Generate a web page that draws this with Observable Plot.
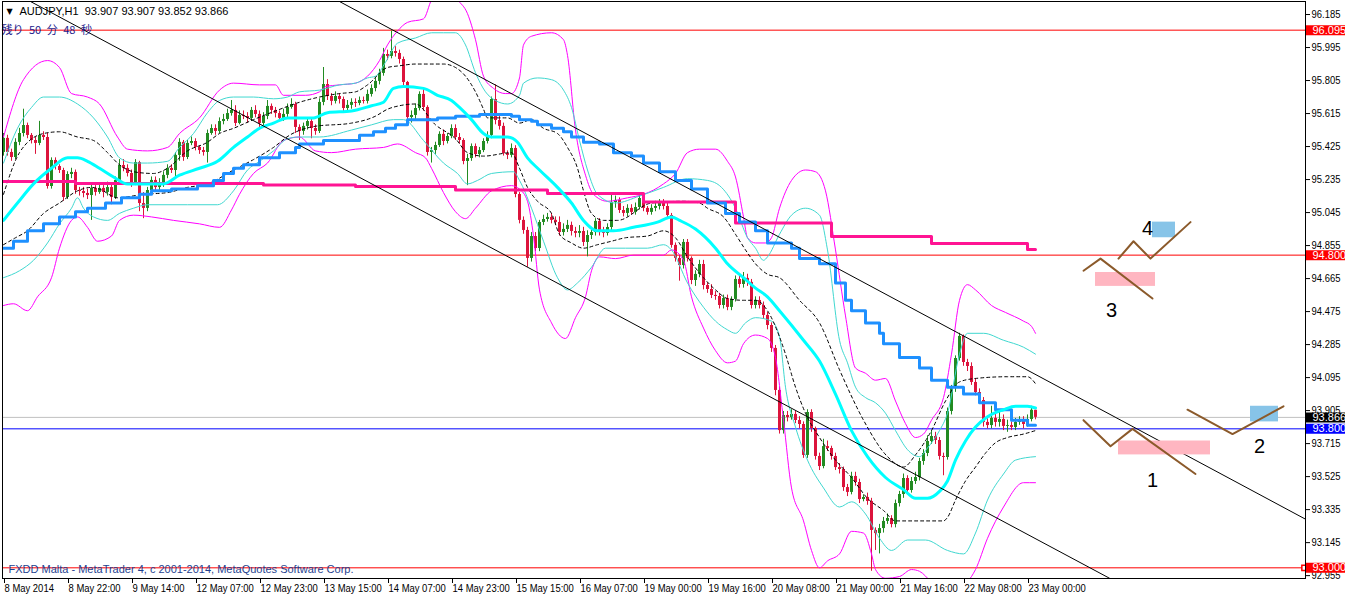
<!DOCTYPE html>
<html><head><meta charset="utf-8">
<script src="https://cdn.jsdelivr.net/npm/d3@7"></script>
<script src="https://cdn.jsdelivr.net/npm/@observablehq/plot@0.6"></script>
<style>
html,body{margin:0;padding:0;background:#fff;}
#chart svg{display:block;}
</style></head><body><div id="chart"></div>
<script>
const FONT = '"Liberation Sans",Arial,sans-serif';

// ---- hourly AUDJPY candles (bar index 0 = 8 May 2014 06:00) ----
const firstOpen = 95.391;
const closes = [
95.472,95.391,95.362,95.449,95.500,95.546,95.489,95.460,95.443,95.489,
95.477,95.195,95.345,95.310,95.287,95.132,95.264,95.276,95.172,95.166,
95.155,95.143,95.184,95.161,95.184,95.161,95.189,95.132,95.230,95.316,
95.299,95.270,95.212,95.333,95.097,95.069,95.172,95.230,95.189,95.207,
95.259,95.299,95.287,95.374,95.449,95.362,95.443,95.454,95.420,95.402,
95.391,95.500,95.529,95.512,95.569,95.581,95.615,95.633,95.558,95.604,
95.598,95.587,95.633,95.610,95.558,95.598,95.656,95.633,95.615,95.587,
95.610,95.650,95.667,95.535,95.512,95.541,95.569,95.529,95.512,95.679,
95.782,95.713,95.685,95.713,95.696,95.644,95.662,95.679,95.673,95.690,
95.685,95.725,95.759,95.800,95.846,95.955,95.944,95.972,95.961,95.926,
95.794,95.592,95.604,95.644,95.725,95.650,95.391,95.402,95.431,95.495,
95.454,95.483,95.529,95.477,95.460,95.339,95.356,95.425,95.379,95.402,
95.454,95.489,95.696,95.575,95.541,95.385,95.374,95.414,95.149,95.000,
94.942,94.781,94.907,94.838,94.988,95.005,95.017,95.000,94.988,94.930,
94.948,94.971,94.936,94.925,94.936,94.873,94.913,94.930,94.994,94.930,
94.925,94.959,95.103,95.115,95.057,95.040,95.069,95.046,95.074,95.126,
95.069,95.046,95.069,95.080,95.097,95.080,95.028,94.856,94.781,94.740,
94.873,94.781,94.654,94.689,94.746,94.625,94.602,94.568,94.562,94.510,
94.550,94.499,94.545,94.660,94.631,94.666,94.643,94.510,94.539,94.510,
94.453,94.395,94.263,94.021,93.790,93.877,93.865,93.883,93.848,93.825,
93.647,93.894,93.802,93.641,93.583,93.698,93.687,93.641,93.577,93.566,
93.462,93.434,93.526,93.491,93.393,93.405,93.382,93.215,93.197,93.226,
93.267,93.284,93.249,93.370,93.422,93.514,93.445,93.497,93.520,93.612,
93.658,93.727,93.756,93.733,93.641,93.635,93.900,94.032,94.205,94.332,
94.182,94.159,94.067,94.009,93.963,93.837,93.819,93.860,93.837,93.854,
93.814,93.819,93.808,93.837,93.848,93.825,93.854,93.907,93.866];
const highs = [
95.50,95.49,95.41,95.47,95.53,95.64,95.56,95.50,95.48,95.57,
95.51,95.50,95.36,95.36,95.32,95.30,95.28,95.30,95.29,95.19,
95.19,95.18,95.21,95.20,95.21,95.20,95.22,95.21,95.25,95.35,
95.35,95.32,95.29,95.35,95.34,95.16,95.19,95.25,95.25,95.24,
95.28,95.32,95.32,95.39,95.47,95.46,95.46,95.48,95.47,95.43,
95.42,95.52,95.55,95.55,95.59,95.61,95.64,95.69,95.66,95.63,
95.63,95.62,95.65,95.66,95.63,95.62,95.69,95.67,95.65,95.63,
95.64,95.67,95.70,95.68,95.55,95.56,95.59,95.59,95.55,95.70,
95.88,95.81,95.73,95.74,95.73,95.71,95.69,95.70,95.70,95.71,
95.71,95.75,95.78,95.82,95.87,95.99,95.98,96.09,96.00,95.98,
95.94,95.80,95.63,95.67,95.74,95.76,95.66,95.42,95.45,95.51,
95.52,95.50,95.55,95.55,95.50,95.47,95.38,95.44,95.44,95.42,
95.47,95.51,95.71,95.78,95.60,95.56,95.40,95.44,95.43,95.16,
95.02,94.96,94.93,94.93,95.00,95.03,95.04,95.04,95.02,95.02,
94.98,95.00,94.99,94.96,94.97,94.96,94.94,94.96,95.01,95.01,
94.96,94.98,95.15,95.14,95.13,95.08,95.09,95.09,95.10,95.16,
95.14,95.08,95.09,95.11,95.12,95.12,95.10,95.04,94.87,94.80,
94.89,94.89,94.79,94.71,94.77,94.77,94.64,94.63,94.59,94.58,
94.57,94.57,94.56,94.68,94.68,94.70,94.69,94.66,94.56,94.56,
94.53,94.47,94.41,94.28,94.04,93.90,93.90,93.91,93.90,93.87,
93.84,93.91,93.91,93.81,93.66,93.74,93.73,93.70,93.66,93.60,
93.58,93.48,93.55,93.55,93.51,93.42,93.43,93.40,93.23,93.25,
93.29,93.31,93.30,93.39,93.44,93.54,93.53,93.52,93.55,93.63,
93.68,93.76,93.79,93.78,93.75,93.66,93.92,94.05,94.22,94.35,
94.34,94.20,94.18,94.09,94.03,93.98,93.87,93.93,93.94,93.90,
93.88,93.85,93.84,93.86,93.87,93.87,93.88,93.93,93.907];
const lows = [
95.37,95.37,95.34,95.35,95.43,95.48,95.47,95.44,95.38,95.43,
95.46,95.18,95.18,95.29,95.27,95.11,95.12,95.24,95.15,95.14,
95.13,95.12,95.00,95.14,95.15,95.13,95.14,95.09,95.12,95.21,
95.28,95.25,95.19,95.20,95.05,95.01,95.05,95.16,95.17,95.17,
95.19,95.24,95.27,95.24,95.34,95.34,95.35,95.43,95.40,95.38,
95.37,95.33,95.49,95.49,95.50,95.55,95.57,95.60,95.54,95.55,
95.58,95.56,95.57,95.59,95.52,95.54,95.58,95.61,95.59,95.57,
95.57,95.59,95.64,95.50,95.46,95.49,95.52,95.47,95.49,95.50,
95.66,95.69,95.66,95.67,95.67,95.62,95.63,95.64,95.65,95.66,
95.67,95.67,95.71,95.74,95.78,95.83,95.92,95.93,95.94,95.90,
95.77,95.57,95.56,95.58,95.63,95.63,95.37,95.33,95.38,95.42,
95.43,95.44,95.47,95.46,95.44,95.32,95.20,95.34,95.36,95.36,
95.39,95.44,95.47,95.55,95.52,95.37,95.35,95.36,95.13,94.98,
94.92,94.73,94.76,94.82,94.82,94.97,94.99,94.98,94.97,94.91,
94.91,94.93,94.91,94.90,94.90,94.85,94.79,94.89,94.91,94.91,
94.90,94.91,94.94,95.07,95.04,95.02,95.02,95.03,95.03,95.06,
95.05,95.03,95.03,95.05,95.06,95.06,95.01,94.84,94.76,94.65,
94.72,94.76,94.63,94.62,94.67,94.60,94.58,94.55,94.54,94.49,
94.49,94.48,94.48,94.53,94.61,94.61,94.62,94.49,94.49,94.49,
94.43,94.37,94.24,93.99,93.77,93.77,93.84,93.85,93.83,93.80,
93.63,93.63,93.78,93.62,93.56,93.57,93.67,93.62,93.56,93.54,
93.44,93.41,93.42,93.47,93.37,93.38,93.36,92.98,93.10,93.08,
93.20,93.25,93.23,93.23,93.35,93.40,93.43,93.43,93.48,93.50,
93.59,93.64,93.71,93.71,93.62,93.53,93.62,93.88,94.01,94.19,
94.16,94.13,94.05,93.99,93.94,93.81,93.80,93.80,93.81,93.81,
93.79,93.78,93.79,93.79,93.82,93.80,93.81,93.84,93.852];

// ---- indicator lines: [bar, price] ----
const magentaUpper = [[0,95.48],[5,95.81],[11,95.92],[14,95.88],[17,95.73],[21,95.71],[24,95.67],[28.5,95.48],[31,95.41],[36,95.40],[41,95.42],[44,95.50],[49,95.59],[54,95.75],[57.5,95.79],[64,95.78],[68,95.78],[70,95.72],[75.5,95.72],[79,95.74],[80.5,95.77],[84,95.78],[88,95.79],[91,95.83],[94,95.92],[96,96.01],[98.5,96.09],[101,96.14],[105,96.16],[107,96.27],[110.5,96.35],[113.5,96.27],[116,96.19],[118,96.04],[120,95.83],[122.5,95.76],[125.5,95.73],[127,95.73],[129,95.82],[130,96.01],[132,96.06],[137,96.08],[140,96.04],[141,95.95],[143,95.52],[145.5,95.26],[147.5,95.15],[151,95.11],[156,95.13],[160,95.15],[165,95.21],[168,95.27],[171,95.39],[174,95.41],[178,95.41],[181,95.34],[183,95.25],[185,95.02],[186,94.90],[188,94.87],[190.5,94.87],[192,94.90],[194,95.07],[197,95.23],[200.5,95.29],[203,95.28],[205.5,95.17],[208,94.83],[210.5,94.45],[213,94.15],[215.5,94.12],[218,94.08],[220.5,94.09],[223,93.96],[225.5,93.83],[228,93.75],[230,93.77],[232,93.85],[235,93.98],[237,94.23],[239,94.54],[241,94.63],[243,94.60],[247,94.51],[250.5,94.47],[255,94.42],[257,94.39],[258,94.35]];
const magentaLower = [[0,94.51],[2.5,94.52],[6,94.48],[8.5,94.56],[12,94.67],[14,94.84],[17,95.00],[18.5,95.02],[21,94.96],[23.5,94.88],[27,94.91],[29,95.00],[32.5,95.03],[37,95.02],[42.5,95.00],[49,94.98],[54,94.96],[57,95.06],[59,95.15],[62.5,95.27],[66,95.33],[70,95.46],[74,95.48],[78,95.40],[82,95.39],[88,95.41],[95,95.42],[98.5,95.44],[103,95.39],[105.5,95.36],[107,95.30],[110,95.16],[113,95.05],[115.5,95.01],[118,95.07],[122,95.17],[127,95.20],[129,95.18],[131,95.11],[132.5,94.91],[134,94.60],[137,94.41],[140.5,94.32],[143,94.44],[145.5,94.56],[147,94.71],[149,94.79],[153,94.78],[157.5,94.80],[165,94.80],[167,94.83],[170,94.77],[172,94.56],[175,94.38],[178,94.25],[181,94.18],[183,94.19],[185,94.29],[188,94.34],[191,94.32],[193,94.21],[195,93.85],[197,93.46],[200,93.27],[202,93.10],[204,93.00],[206,93.04],[209,93.08],[212,93.21],[215,93.20],[217,93.08],[218,92.99],[220.5,92.94],[224,92.95],[227,92.99],[229,92.98],[232,92.92],[237,92.87],[241,92.92],[243,92.99],[246,93.17],[250,93.35],[255,93.49],[258,93.49]];
const turqUpper = [[0,95.33],[3.5,95.53],[7,95.65],[10,95.71],[14,95.71],[18.5,95.67],[22.5,95.59],[26,95.48],[29,95.36],[32.5,95.33],[36,95.33],[41,95.34],[44,95.42],[47.5,95.50],[51,95.62],[54,95.69],[57.5,95.71],[62.5,95.71],[67.5,95.70],[71,95.71],[74,95.74],[79,95.75],[84,95.78],[88,95.79],[91,95.82],[93,95.83],[95.5,95.91],[98.5,96.02],[103,96.05],[107,96.08],[110,96.08],[113,96.08],[115.5,96.01],[118,95.85],[120.5,95.74],[123,95.69],[126,95.67],[129,95.72],[130,95.79],[133.5,95.82],[137,95.81],[140,95.75],[142,95.65],[144,95.46],[146,95.29],[148.5,95.15],[153,95.10],[159,95.14],[165,95.19],[171,95.24],[176,95.23],[179.5,95.19],[183,95.07],[186,94.90],[188,94.84],[190,94.77],[191,94.79],[194,94.92],[197,95.03],[200.5,95.07],[204,95.03],[206,94.83],[209,94.31],[211,94.18],[213,94.04],[215.5,93.98],[218,93.95],[220.5,93.89],[223,93.79],[226,93.68],[229,93.64],[231,93.69],[234,93.79],[236,93.89],[239,94.23],[241,94.35],[245,94.35],[250,94.31],[255,94.27],[258,94.23]];
const turqLower = [[0,94.67],[4,94.71],[7.5,94.77],[11,94.87],[14,94.98],[17,95.07],[18.5,95.13],[20,95.07],[22.5,95.02],[26,95.00],[29,95.04],[32.5,95.07],[36,95.09],[46,95.09],[53.5,95.09],[57.5,95.17],[61,95.29],[64,95.34],[67.5,95.40],[71,95.47],[74,95.48],[79,95.48],[87,95.52],[92,95.55],[97.5,95.58],[100,95.58],[105,95.46],[110,95.33],[113.5,95.27],[116,95.21],[118.5,95.23],[122,95.27],[127.5,95.28],[129,95.23],[132,95.07],[135,94.88],[138.5,94.67],[141,94.60],[143.5,94.64],[147,94.73],[150.5,94.84],[155.5,94.84],[161,94.84],[165,94.86],[167,94.83],[171,94.64],[175,94.50],[178,94.42],[181,94.37],[183,94.35],[185.5,94.41],[188,94.44],[192,94.42],[194,94.33],[195.5,94.04],[198,93.81],[201,93.62],[205,93.46],[209,93.35],[212,93.38],[215.5,93.31],[219,93.17],[222,93.10],[226,93.16],[230.5,93.16],[236,93.10],[240,93.08],[243,93.20],[246,93.39],[250,93.54],[253,93.62],[258,93.64]];
const dashUpper = [[0,95.15],[4,95.39],[10,95.50],[14,95.51],[18.5,95.48],[22.5,95.46],[26,95.39],[29,95.32],[32.5,95.28],[37.5,95.27],[41,95.30],[46,95.40],[51,95.45],[54,95.50],[57.5,95.53],[62.5,95.58],[68,95.63],[74,95.68],[79,95.71],[84,95.73],[88,95.74],[91,95.78],[96,95.88],[99,95.89],[103,95.90],[110,95.90],[113,95.88],[115.5,95.83],[118,95.74],[120,95.64],[121,95.59],[126,95.59],[129,95.56],[132,95.58],[135,95.53],[138.5,95.50],[141,95.42],[143.5,95.30],[145,95.17],[147,95.04],[150,95.00],[153.5,95.00],[162,95.10],[170,95.11],[174,95.10],[176,95.07],[180,95.02],[183,94.92],[185.5,94.83],[188,94.75],[191,94.69],[194,94.67],[199,94.54],[204,94.41],[209,94.14],[215,93.85],[221,93.64],[225,93.58],[228,93.65],[232,93.79],[235.5,93.96],[239,94.07],[243,94.09],[251,94.10],[256,94.10],[258,94.06]];
const dashLower = [[0,94.86],[3,94.90],[6,94.94],[10,95.04],[14,95.10],[18.5,95.17],[22,95.19],[24,95.18],[28.5,95.13],[35,95.15],[41,95.16],[46,95.19],[51,95.21],[57.5,95.29],[62.5,95.35],[67.5,95.42],[71.5,95.49],[77.5,95.54],[87,95.56],[93,95.60],[96,95.64],[99,95.66],[103,95.67],[108,95.55],[113,95.47],[116,95.39],[120,95.37],[127,95.39],[129,95.30],[131,95.19],[133.5,95.11],[137,95.04],[139,94.92],[142,94.87],[145,94.84],[148.5,94.86],[152,94.88],[155.5,94.90],[161,94.91],[165,94.94],[168,94.90],[171,94.79],[175,94.67],[178,94.60],[181,94.55],[185,94.54],[188,94.54],[191,94.48],[194,94.33],[195.5,94.23],[198,94.04],[200.5,93.89],[204,93.75],[208,93.62],[212,93.52],[216,93.40],[220,93.33],[223,93.27],[235,93.27],[236,93.29],[238,93.39],[240.5,93.50],[243,93.58],[245.5,93.66],[248,93.72],[251,93.75],[255,93.77],[258,93.79]];
const cyanMA = [[0,95.00],[3.5,95.10],[7.5,95.21],[12,95.30],[16,95.36],[18.5,95.36],[21,95.34],[24,95.30],[27.5,95.25],[31,95.21],[35,95.21],[40,95.21],[44,95.26],[49,95.30],[53.5,95.34],[57.5,95.42],[61,95.48],[64,95.53],[67.5,95.56],[71,95.59],[74,95.59],[77.5,95.59],[81,95.62],[87,95.63],[92,95.66],[95,95.68],[97.5,95.76],[100,95.77],[105,95.76],[108.5,95.72],[112,95.69],[114,95.65],[117,95.58],[120,95.50],[122,95.48],[126,95.48],[128.5,95.45],[131,95.36],[134,95.29],[138.5,95.19],[142,95.10],[145,95.00],[148.5,94.94],[152.5,94.94],[157.5,94.96],[163.5,94.99],[167,95.02],[169,95.00],[173,94.95],[178,94.84],[181,94.75],[185,94.67],[188,94.61],[191,94.56],[194,94.48],[200,94.31],[204,94.19],[208,94.00],[212,93.79],[216,93.64],[220.5,93.52],[225,93.45],[228,93.40],[231,93.40],[234,93.44],[236,93.50],[238,93.62],[240.5,93.73],[243,93.81],[246,93.87],[250,93.91],[253,93.93],[256,93.93],[258,93.92]];
const blueSteps = [[0,94.84],[2.5,94.88],[6,94.94],[10,94.98],[14,95.02],[18,95.05],[21,95.07],[25.5,95.10],[29.5,95.13],[34,95.15],[37,95.17],[42,95.18],[48.5,95.20],[52.5,95.23],[55,95.27],[57.5,95.30],[60,95.32],[64,95.36],[69,95.39],[73,95.42],[74,95.44],[80,95.46],[89,95.49],[92.5,95.51],[95.5,95.53],[98,95.55],[101,95.58],[108.5,95.59],[113,95.60],[119,95.61],[127,95.60],[129,95.58],[132,95.57],[133.5,95.55],[137,95.53],[140,95.51],[142,95.48],[145,95.45],[149,95.44],[152.5,95.39],[157,95.37],[160,95.33],[164,95.28],[168,95.23],[172,95.18],[176,95.10],[180.5,95.04],[184,94.99],[188,94.94],[191,94.87],[197,94.84],[199,94.78],[204,94.75],[208,94.64],[210.5,94.54],[212,94.48],[215.5,94.41],[219,94.35],[220,94.29],[224,94.21],[229,94.15],[232,94.08],[236,94.04],[240,94.00],[244,93.95],[248,93.91],[252,93.85],[256,93.82],[258,93.82]];
const pinkSteps = [[-1,95.224],[18,95.212],[65,95.204],[88,95.195],[113,95.175],[136,95.155],[160,95.106],[183,94.985],[207,94.907],[232,94.867],[256,94.833],[258,94.833]];

// ---- user drawn objects ----
const trendUpper = [[84,96.26],[325.5,93.28]];
const trendLower = [[6.75,96.26],[276.5,92.94]];
const hLineRed = [96.095, 94.800, 93.000];
const bidLine = 93.866;
const blueHLine = 93.800;
const zigzags = [
  [[270,94.71],[274.25,94.78],[287.25,94.55]],
  [[278.75,94.78],[282.5,94.88],[286.75,94.78],[296.75,94.99]],
  [[270,93.85],[276.75,93.70],[282.25,93.80],[298,93.54]],
  [[296,93.91],[307.25,93.77],[320,93.93]]
];
const pinkBoxes = [[273,288,94.62,94.70],[278.75,301.75,93.65,93.73]];
const blueBoxes = [[287.25,293,94.90,94.99],[311.75,318.75,93.84,93.93]];
const waveLabels = [["1",287.25,93.50],["2",314,93.70],["3",277,94.48],["4",286,94.95]];

// ---- axes ----
const yTicks = [96.185,95.995,95.805,95.615,95.425,95.235,95.045,94.855,94.665,94.475,94.285,94.095,93.905,93.715,93.525,93.335,93.145,92.955];
const xTickBars = [0,16,32,48,64,80,96,112,128,144,160,176,192,208,224,240,256];
const xTickLabels = ["8 May 2014","8 May 22:00","9 May 14:00","12 May 07:00","12 May 23:00","13 May 15:00","14 May 07:00","14 May 23:00","15 May 15:00","16 May 07:00","19 May 00:00","19 May 16:00","20 May 08:00","21 May 00:00","21 May 16:00","22 May 08:00","23 May 00:00"];
const boxValues = [96.095, 94.800, 93.866, 93.800, 93.000];
const boxColors = ["#ff0000","#ff0000","#000000","#0000ff","#ff0000"];

const titleText = "AUDJPY,H1\u00a0\u00a093.907 93.907 93.852 93.866";
const timerText = "残り\u200250\u2002分\u200248\u2002秒";
const copyText = "FXDD Malta - MetaTrader 4, c 2001-2014, MetaQuotes Software Corp.";

// ---- build ----
const bars = closes.map((c, i) => ({i, o: i === 0 ? firstOpen : closes[i - 1], c, h: highs[i], l: lows[i]}));
const up = bars.filter(d => d.c >= d.o), dn = bars.filter(d => d.c < d.o);
const UP = "#228b22", DN = "#dc143c";
const P = d => d[0], V = d => d[1];
const ln = (data, o) => Plot.line(data, {x: P, y: V, clip: true, curve: "monotone-x", ...o});

const marks = [
  Plot.ruleY(hLineRed, {stroke: "#ff0000", strokeWidth: 1}),
  Plot.ruleY([bidLine], {stroke: "#c0c0c0", strokeWidth: 1}),
  Plot.ruleY([blueHLine], {stroke: "#0000ff", strokeWidth: 1}),
  // candles
  Plot.ruleX(up, {x: "i", y1: "l", y2: "h", stroke: UP, strokeWidth: 1}),
  Plot.ruleX(dn, {x: "i", y1: "l", y2: "h", stroke: DN, strokeWidth: 1}),
  Plot.ruleX(up, {x: "i", y1: "o", y2: "c", stroke: UP, strokeWidth: 3}),
  Plot.ruleX(dn, {x: "i", y1: "o", y2: "c", stroke: DN, strokeWidth: 3}),
  // bands
  ln(magentaUpper, {stroke: "#ff00ff", strokeWidth: 1}),
  ln(magentaLower, {stroke: "#ff00ff", strokeWidth: 1}),
  ln(turqUpper, {stroke: "#40d8d0", strokeWidth: 1}),
  ln(turqLower, {stroke: "#40d8d0", strokeWidth: 1}),
  ln(dashUpper, {stroke: "#000", strokeWidth: 1, strokeDasharray: "3,3"}),
  ln(dashLower, {stroke: "#000", strokeWidth: 1, strokeDasharray: "3,3"}),
  ln(pinkSteps, {stroke: "#ff1493", strokeWidth: 3, curve: "step-after"}),
  ln(blueSteps, {stroke: "#1e90ff", strokeWidth: 3, curve: "step-after"}),
  ln(cyanMA, {stroke: "#00ffff", strokeWidth: 3}),
  // trendlines
  ln(trendUpper, {stroke: "#000", strokeWidth: 1, curve: "linear"}),
  ln(trendLower, {stroke: "#000", strokeWidth: 1, curve: "linear"}),
  // analysis drawings
  Plot.rect(pinkBoxes, {x1: d => d[0], x2: d => d[1], y1: d => d[2], y2: d => d[3], fill: "#ffb6c1"}),
  Plot.rect(blueBoxes, {x1: d => d[0], x2: d => d[1], y1: d => d[2], y2: d => d[3], fill: "#87c4e8"}),
  ...zigzags.map(z => Plot.line(z, {x: P, y: V, stroke: "#8b5a2b", strokeWidth: 2})),
  Plot.text(waveLabels, {x: d => d[1], y: d => d[2], text: d => d[0], fontSize: 20, fill: "#000", fontFamily: "Liberation Sans, Arial, sans-serif"}),
  Plot.dot([[325.25, 93.0]], {x: P, y: V, symbol: "square", r: 3, stroke: "#ff0000", fill: "#fff", clip: false}),
  // texts
  Plot.text(["\u25bc"], {frameAnchor: "top-left", dx: 4, dy: 10, text: d => d, fontSize: 8, lineAnchor: "middle", textAnchor: "start", fill: "#000", fontFamily: "DejaVu Sans"}),
  Plot.text([titleText], {frameAnchor: "top-left", dx: 17, dy: 10, text: d => d, fontSize: 11, lineAnchor: "middle", textAnchor: "start", fill: "#000"}),
  Plot.text([timerText], {frameAnchor: "top-left", dx: -1, dy: 29, text: d => d, fontSize: 11, lineAnchor: "middle", textAnchor: "start", fill: "#1a1a8c", fontFamily: '"Noto Sans CJK JP", sans-serif'}),
  Plot.text([copyText], {frameAnchor: "bottom-left", dx: 6, dy: -9, text: d => d, fontSize: 11, lineAnchor: "middle", textAnchor: "start", fill: "#1f3f8f", ariaLabel: "narrow label"}),
  Plot.frame({stroke: "#000"}),
  Plot.axisX({anchor: "bottom", ticks: xTickBars, tickFormat: d => xTickLabels[xTickBars.indexOf(d)], tickSize: 5, tickPadding: 1, textAnchor: "start", dx: 1, label: null, fontSize: 11}),
  Plot.axisY({anchor: "right", ticks: yTicks, tickFormat: d => d.toFixed(3), tickSize: 4, tickPadding: 2, label: null, fontSize: 11}),
  ...boxValues.map((v, k) => Plot.ruleY([v], {stroke: boxColors[k], strokeWidth: 10, insetLeft: 1304, insetRight: -40})),
  ...boxValues.map((v, k) => Plot.text([v], {y: d => d, text: d => d.toFixed(3), frameAnchor: "right", dx: 7, textAnchor: "start", fill: "#fff", fontSize: 11, ariaLabel: "narrow label"}))
];

const chart = Plot.plot({
  width: 1346, height: 597,
  marginLeft: 2, marginRight: 41, marginTop: 1, marginBottom: 19,
  x: {type: "linear", domain: [-0.25, 325.5]},
  y: {type: "linear", domain: [92.9385, 96.260]},
  style: {fontFamily: FONT, fontSize: "11px", background: "#fff", color: "#000"},
  marks
});
// narrow (Tahoma-like) horizontal metrics for the MT4 labels
d3.select(chart).selectAll("text").each(function () {
  let g = this.parentNode, hit = false;
  while (g && g !== chart) { const a = g.getAttribute && g.getAttribute("aria-label"); if (a && /narrow label|tick label/.test(a)) { hit = true; break; } g = g.parentNode; }
  if (hit) { const t = this.getAttribute("transform") || ""; this.setAttribute("transform", t + " scale(0.86,1)"); }
});
document.getElementById("chart").append(chart);
</script></body></html>
